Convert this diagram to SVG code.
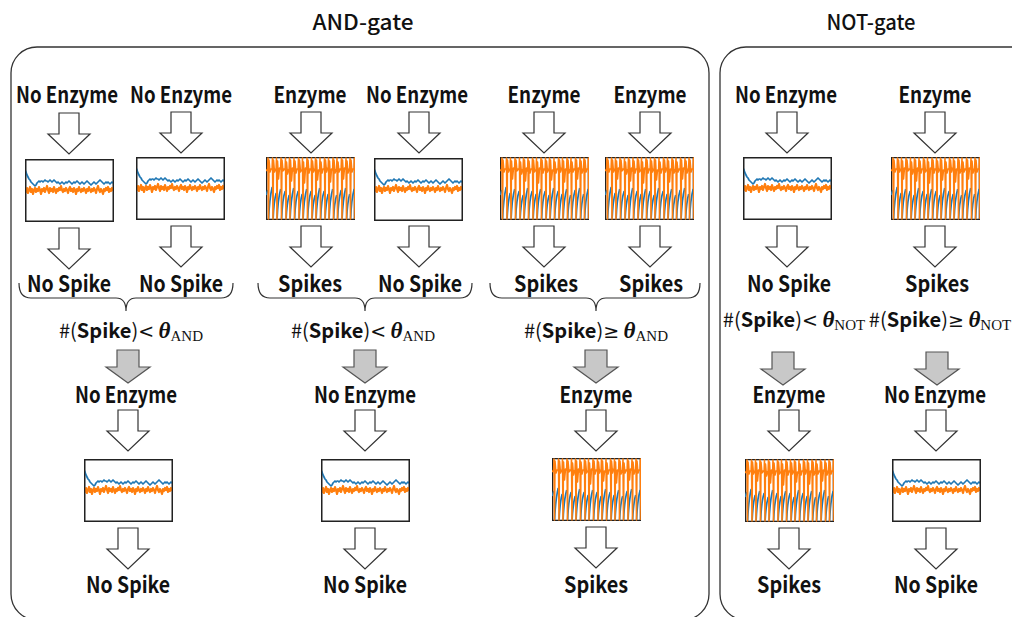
<svg xmlns="http://www.w3.org/2000/svg" xmlns:xlink="http://www.w3.org/1999/xlink" width="1012" height="617" viewBox="0 0 1012 617">
  <style>
    .frame { fill: none; stroke: #333; stroke-width: 1.3; }
    .title { font-family: "Noto Sans CJK JP", "Noto Sans", sans-serif; font-size: 21px; font-weight: 500; text-anchor: middle; fill: #111; }
    .lbl { font-family: "Noto Sans CJK JP", "Noto Sans", sans-serif; font-size: 22px; font-weight: 700; text-anchor: middle; fill: #111; }
    .fm { font-family: "Noto Sans CJK JP", "Noto Sans", sans-serif; font-size: 20px; text-anchor: middle; fill: #111; }
    .fm .b { font-weight: 700; }
    .fm .op { font-family: "DejaVu Sans", sans-serif; font-size: 19px; }
    .fm .th { font-family: "Liberation Serif", "DejaVu Serif", serif; font-style: italic; font-weight: 700; font-size: 23px; }
    .fm .sub { font-family: "Liberation Serif", "DejaVu Serif", serif; font-size: 15px; }
    .warrow { fill: #fff; stroke: #333; stroke-width: 1.2; stroke-linejoin: miter; }
    .garrow { fill: #c8c8c8; stroke: #555; stroke-width: 1.2; }
    .brace { fill: none; stroke: #333; stroke-width: 1.2; }
    .blue { fill: none; stroke: #1f77b4; stroke-width: 1.7; stroke-linejoin: round; }
    .orange { fill: none; stroke: #ff7f0e; stroke-width: 2.2; stroke-linejoin: round; }
    .orange-s { fill: none; stroke: #ff7f0e; stroke-width: 1.6; stroke-linejoin: round; }
    .plotbox { fill: #fff; stroke: #222; stroke-width: 1.3; }
  </style>
  <defs>
    <!-- hollow down arrow, origin at top centre of the shaft -->
    <path id="wa" class="warrow" d="M-10,0 H10 V21 H21 L0,41 L-21,21 H-10 Z"/>
    <!-- grey decision arrow -->
    <path id="ga" class="garrow" d="M-11,0 H11 V17 H22 L0,33 L-22,17 H-11 Z"/>

    <!-- membrane trace without spiking -->
    <symbol id="quiet" viewBox="0 0 89 63">
      <rect class="plotbox" x="0.65" y="0.65" width="87.7" height="61.7"/>
      <path class="blue" d="M0,11 L1,13 2,16 3,18 4,20 5,21 6,23 7,24 8,25 9,26 10,27 11,26 12,24 13,23 14,22 15,23 16,22 17,22 18,23 19,22 20,21 21,22 22,22 23,23 24,22 25,21 26,22 27,23 28,22 29,21 30,22 31,23 32,24 33,23 34,24 35,25 36,24 37,23 38,24 39,25 40,24 41,23 42,24 43,23 44,22 45,23 46,24 47,25 48,24 49,23 50,24 51,23 52,22 53,23 54,24 55,25 56,24 57,23 58,24 59,25 60,24 61,23 62,22 63,23 64,24 65,25 66,26 67,25 68,24 69,23 70,24 71,25 72,24 73,23 74,22 75,21 76,22 77,23 78,24 79,25 80,24 81,23 82,24 83,23 84,24 85,25 86,24 87,23 88,24 89,24"/>
      <path class="orange" d="M0,30 L1,33 2,29 3,34 4,31 5,28 6,33 7,30 8,35 9,31 10,29 11,33 12,30 13,32 14,28 15,31 16,35 17,30 18,32 19,29 20,33 21,30 22,27 23,31 24,34 25,29 26,32 27,30 28,33 29,28 30,31 31,34 32,30 33,32 34,29 35,31 36,27 37,31 38,33 39,30 40,32 41,29 42,31 43,34 44,30 45,28 46,32 47,30 48,33 49,29 50,31 51,35 52,30 53,32 54,28 55,31 56,33 57,30 58,32 59,29 60,31 61,34 62,30 63,32 64,28 65,31 66,33 67,30 68,32 69,29 70,31 71,34 72,30 73,27 74,31 75,33 76,30 77,32 78,35 79,30 80,32 81,29 82,31 83,28 84,33 85,30 86,32 87,29 88,31 89,30"/>
      <rect x="0.65" y="0.65" width="87.7" height="61.7" fill="none" stroke="#222" stroke-width="1.3"/>
    </symbol>

    <!-- membrane trace with repetitive spiking -->
    <symbol id="spiking" viewBox="0 0 89 63">
      <rect class="plotbox" x="0.65" y="0.65" width="87.7" height="61.7"/>
      <path class="blue" d="M0,38 L1.8,33 M2.6,62 Q3.4,42 6.2,30 M7.1,62 Q7.9,44 10.2,36 M11.1,62 Q11.9,42 14.7,32 M15.6,62 Q16.4,42 19.2,34 M20.1,62 Q20.9,46 23.2,38 M24.1,62 Q24.9,42 27.7,31 M28.6,62 Q29.4,42 32.2,34 M33.1,62 Q33.9,45 36.2,37 M37.1,62 Q37.9,42 40.7,32 M41.6,62 Q42.4,42 45.2,34 M46.1,62 Q46.9,45 49.2,38 M50.1,62 Q50.9,42 53.7,31 M54.6,62 Q55.4,42 58.2,34 M59.1,62 Q59.9,45 62.2,37 M63.1,62 Q63.9,42 66.7,32 M67.6,62 Q68.4,45 70.7,38 M71.6,62 Q72.4,42 75.2,33 M76.1,62 Q76.9,42 79.7,31 M80.6,62 Q81.4,45 83.7,37 M84.6,62 Q85.4,42 88.2,32"/>
      <path class="orange-s" d="M0,14 L1.6,12 L2,1 L2.5,62 L3,3 L4,15 L5,12 L6.1,12 L6.5,1 L7,62 L7.5,3 L8.5,15 L9.5,12 L10.1,13 L10.5,1 L11,62 L11.5,4 L12.5,22 L13.5,11 L14.6,12 L15,1 L15.5,62 L16,3 L17,14 L18,12 L19.1,13 L19.5,1 L20,62 L20.5,5 L21.5,17 L22.5,13 L23.1,12 L23.5,1 L24,62 L24.5,3 L25.5,24 L26.5,11 L27.6,14 L28,1 L28.5,62 L29,4 L30,16 L31,12 L32.1,12 L32.5,1 L33,62 L33.5,3 L34.5,15 L35.5,13 L36.1,13 L36.5,1 L37,62 L37.5,5 L38.5,26 L39.5,11 L40.6,12 L41,1 L41.5,62 L42,3 L43,16 L44,12 L45.1,13 L45.5,1 L46,62 L46.5,4 L47.5,15 L48.5,12 L49.1,12 L49.5,1 L50,62 L50.5,3 L51.5,23 L52.5,13 L53.6,14 L54,1 L54.5,62 L55,5 L56,16 L57,12 L58.1,12 L58.5,1 L59,62 L59.5,3 L60.5,15 L61.5,11 L62.1,12 L62.5,1 L63,62 L63.5,4 L64.5,25 L65.5,12 L66.6,13 L67,1 L67.5,62 L68,3 L69,16 L70,13 L70.6,12 L71,1 L71.5,62 L72,5 L73,15 L74,12 L75.1,13 L75.5,1 L76,62 L76.5,3 L77.5,22 L78.5,11 L79.6,12 L80,1 L80.5,62 L81,4 L82,16 L83,12 L83.6,13 L84,1 L84.5,62 L85,3 L86,15 L87,12 L88.1,12 L88.5,1 L89,62"/>
    </symbol>
  </defs>

  <rect width="1012" height="617" fill="#fff"/>

  <!-- gate panels -->
  <g id="and-gate">
    <rect class="frame" x="11" y="47" width="698" height="573" rx="26" ry="26"/>
    <text class="title" x="363" y="30" textLength="101" lengthAdjust="spacingAndGlyphs">AND-gate</text>
  </g>
  <g id="not-gate">
    <rect class="frame" x="720" y="47" width="330" height="573" rx="26" ry="26"/>
    <text class="title" x="871" y="30" textLength="89" lengthAdjust="spacingAndGlyphs">NOT-gate</text>
  </g>

  <!-- inputs -->
  <g id="in-1a"><text class="lbl" x="67" y="103" textLength="102" lengthAdjust="spacingAndGlyphs">No Enzyme</text></g>
  <g id="in-1b"><text class="lbl" x="181" y="103" textLength="102" lengthAdjust="spacingAndGlyphs">No Enzyme</text></g>
  <g id="in-2a"><text class="lbl" x="310" y="103" textLength="73" lengthAdjust="spacingAndGlyphs">Enzyme</text></g>
  <g id="in-2b"><text class="lbl" x="417" y="103" textLength="102" lengthAdjust="spacingAndGlyphs">No Enzyme</text></g>
  <g id="in-3a"><text class="lbl" x="544" y="103" textLength="73" lengthAdjust="spacingAndGlyphs">Enzyme</text></g>
  <g id="in-3b"><text class="lbl" x="650" y="103" textLength="73" lengthAdjust="spacingAndGlyphs">Enzyme</text></g>
  <g id="in-4"><text class="lbl" x="786" y="103" textLength="102" lengthAdjust="spacingAndGlyphs">No Enzyme</text></g>
  <g id="in-5"><text class="lbl" x="935" y="103" textLength="73" lengthAdjust="spacingAndGlyphs">Enzyme</text></g>

  <!-- input-neuron traces -->
  <g id="trace-1a"><use xlink:href="#quiet" x="25" y="159" width="89" height="63"/></g>
  <g id="trace-1b"><use xlink:href="#quiet" x="136" y="157" width="89" height="63"/></g>
  <g id="trace-2a"><use xlink:href="#spiking" x="266" y="157" width="89" height="63"/></g>
  <g id="trace-2b"><use xlink:href="#quiet" x="374" y="158" width="89" height="63"/></g>
  <g id="trace-3a"><use xlink:href="#spiking" x="500" y="157" width="89" height="63"/></g>
  <g id="trace-3b"><use xlink:href="#spiking" x="605" y="157" width="89" height="63"/></g>
  <g id="trace-4"><use xlink:href="#quiet" x="743" y="157" width="89" height="63"/></g>
  <g id="trace-5"><use xlink:href="#spiking" x="891" y="157" width="89" height="63"/></g>

  <!-- input-neuron outcomes -->
  <g id="out-1a"><text class="lbl" x="69" y="292" textLength="84" lengthAdjust="spacingAndGlyphs">No Spike</text></g>
  <g id="out-1b"><text class="lbl" x="181" y="292" textLength="84" lengthAdjust="spacingAndGlyphs">No Spike</text></g>
  <g id="out-2a"><text class="lbl" x="310" y="292" textLength="64" lengthAdjust="spacingAndGlyphs">Spikes</text></g>
  <g id="out-2b"><text class="lbl" x="420" y="292" textLength="84" lengthAdjust="spacingAndGlyphs">No Spike</text></g>
  <g id="out-3a"><text class="lbl" x="546" y="292" textLength="64" lengthAdjust="spacingAndGlyphs">Spikes</text></g>
  <g id="out-3b"><text class="lbl" x="651" y="292" textLength="64" lengthAdjust="spacingAndGlyphs">Spikes</text></g>
  <g id="out-4"><text class="lbl" x="789" y="292" textLength="84" lengthAdjust="spacingAndGlyphs">No Spike</text></g>
  <g id="out-5"><text class="lbl" x="937" y="292" textLength="64" lengthAdjust="spacingAndGlyphs">Spikes</text></g>

  <!-- threshold conditions -->
  <g id="cond-1"><text class="fm" x="131" y="338">#(<tspan class="b">Spike</tspan>)<tspan class="op">&lt;</tspan> <tspan class="th">θ</tspan><tspan class="sub" dy="3">AND</tspan></text></g>
  <g id="cond-2"><text class="fm" x="363" y="338">#(<tspan class="b">Spike</tspan>)<tspan class="op">&lt;</tspan> <tspan class="th">θ</tspan><tspan class="sub" dy="3">AND</tspan></text></g>
  <g id="cond-3"><text class="fm" x="596" y="338">#(<tspan class="b">Spike</tspan>)<tspan class="op">≥</tspan> <tspan class="th">θ</tspan><tspan class="sub" dy="3">AND</tspan></text></g>
  <g id="cond-4"><text class="fm" x="794" y="327">#(<tspan class="b">Spike</tspan>)<tspan class="op">&lt;</tspan> <tspan class="th">θ</tspan><tspan class="sub" dy="3">NOT</tspan></text></g>
  <g id="cond-5"><text class="fm" x="940" y="327">#(<tspan class="b">Spike</tspan>)<tspan class="op">≥</tspan> <tspan class="th">θ</tspan><tspan class="sub" dy="3">NOT</tspan></text></g>

  <!-- output enzyme state -->
  <g id="enz-1"><text class="lbl" x="126" y="403" textLength="102" lengthAdjust="spacingAndGlyphs">No Enzyme</text></g>
  <g id="enz-2"><text class="lbl" x="365" y="403" textLength="102" lengthAdjust="spacingAndGlyphs">No Enzyme</text></g>
  <g id="enz-3"><text class="lbl" x="596" y="403" textLength="73" lengthAdjust="spacingAndGlyphs">Enzyme</text></g>
  <g id="enz-4"><text class="lbl" x="789" y="403" textLength="73" lengthAdjust="spacingAndGlyphs">Enzyme</text></g>
  <g id="enz-5"><text class="lbl" x="935" y="403" textLength="102" lengthAdjust="spacingAndGlyphs">No Enzyme</text></g>

  <!-- output-neuron traces -->
  <g id="otrace-1"><use xlink:href="#quiet" x="84" y="459" width="89" height="63"/></g>
  <g id="otrace-2"><use xlink:href="#quiet" x="321" y="459" width="89" height="63"/></g>
  <g id="otrace-3"><use xlink:href="#spiking" x="552" y="458" width="89" height="63"/></g>
  <g id="otrace-4"><use xlink:href="#spiking" x="745" y="459" width="89" height="63"/></g>
  <g id="otrace-5"><use xlink:href="#quiet" x="892" y="459" width="89" height="63"/></g>

  <!-- final outcomes -->
  <g id="res-1"><text class="lbl" x="128" y="593" textLength="84" lengthAdjust="spacingAndGlyphs">No Spike</text></g>
  <g id="res-2"><text class="lbl" x="365" y="593" textLength="84" lengthAdjust="spacingAndGlyphs">No Spike</text></g>
  <g id="res-3"><text class="lbl" x="596" y="593" textLength="64" lengthAdjust="spacingAndGlyphs">Spikes</text></g>
  <g id="res-4"><text class="lbl" x="789" y="593" textLength="64" lengthAdjust="spacingAndGlyphs">Spikes</text></g>
  <g id="res-5"><text class="lbl" x="936" y="593" textLength="84" lengthAdjust="spacingAndGlyphs">No Spike</text></g>

  <!-- connectors -->
  <g id="connectors">
    <!-- enzyme input into each trace -->
    <use xlink:href="#wa" x="69" y="113"/>
    <use xlink:href="#wa" x="181" y="112"/>
    <use xlink:href="#wa" x="311" y="112"/>
    <use xlink:href="#wa" x="419" y="112"/>
    <use xlink:href="#wa" x="544" y="112"/>
    <use xlink:href="#wa" x="650" y="112"/>
    <use xlink:href="#wa" x="787" y="112"/>
    <use xlink:href="#wa" x="935" y="112"/>
    <!-- trace to outcome -->
    <use xlink:href="#wa" x="69" y="228"/>
    <use xlink:href="#wa" x="181" y="226"/>
    <use xlink:href="#wa" x="311" y="226"/>
    <use xlink:href="#wa" x="419" y="226"/>
    <use xlink:href="#wa" x="544" y="226"/>
    <use xlink:href="#wa" x="650" y="226"/>
    <use xlink:href="#wa" x="787" y="226"/>
    <use xlink:href="#wa" x="935" y="226"/>
    <!-- spike-count braces -->
    <path class="brace" d="M19,283 Q19,298 31,298 H116 Q126,298 126,311 Q126,298 136,298 H221 Q233,298 233,283"/>
    <path class="brace" d="M258,283 Q258,298 270,298 H355 Q365,298 365,311 Q365,298 375,298 H460 Q472,298 472,283"/>
    <path class="brace" d="M490,283 Q490,298 502,298 H586 Q596,298 596,311 Q596,298 606,298 H688 Q700,298 700,283"/>
    <!-- threshold decision -->
    <use xlink:href="#ga" x="128" y="350"/>
    <use xlink:href="#ga" x="365" y="350"/>
    <use xlink:href="#ga" x="596" y="350"/>
    <use xlink:href="#ga" x="783" y="352"/>
    <use xlink:href="#ga" x="937" y="352"/>
    <!-- enzyme into output neuron -->
    <use xlink:href="#wa" x="128" y="410"/>
    <use xlink:href="#wa" x="365" y="410"/>
    <use xlink:href="#wa" x="596" y="410"/>
    <use xlink:href="#wa" x="789" y="410"/>
    <use xlink:href="#wa" x="936" y="410"/>
    <!-- output trace to result -->
    <use xlink:href="#wa" x="128" y="528"/>
    <use xlink:href="#wa" x="365" y="528"/>
    <use xlink:href="#wa" x="596" y="527"/>
    <use xlink:href="#wa" x="789" y="528"/>
    <use xlink:href="#wa" x="936" y="528"/>
  </g>
</svg>
